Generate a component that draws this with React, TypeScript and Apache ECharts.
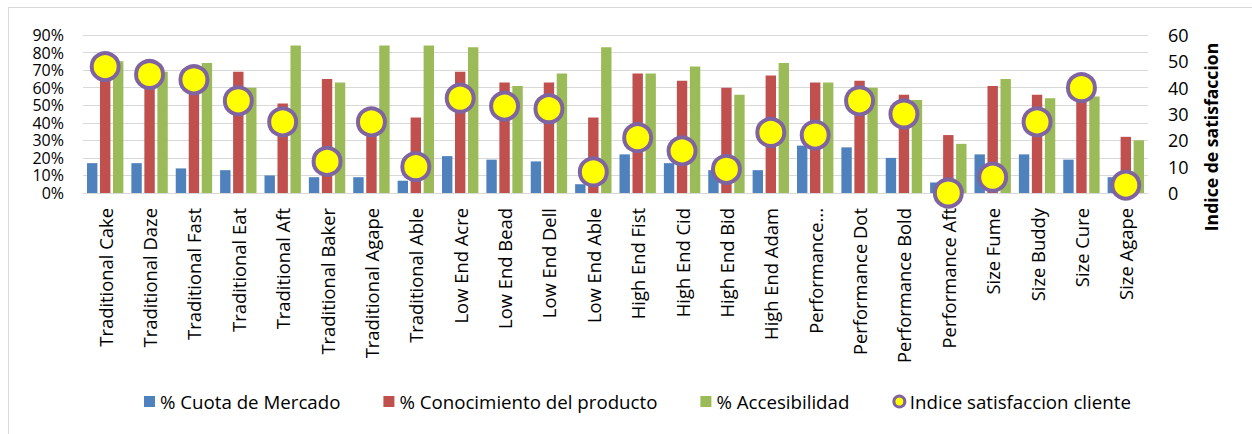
import React, { useEffect, useRef } from "react";
import * as echarts from "echarts";

const categories = [
  "Traditional Cake", "Traditional Daze", "Traditional Fast", "Traditional Eat",
  "Traditional Aft", "Traditional Baker", "Traditional Agape", "Traditional Able",
  "Low End Acre", "Low End Bead", "Low End Dell", "Low End Able",
  "High End Fist", "High End Cid", "High End Bid", "High End Adam",
  "Performance...", "Performance Dot", "Performance Bold", "Performance Aft",
  "Size Fume", "Size Buddy", "Size Cure", "Size Agape",
];

const cuotaMercado = [17, 17, 14, 13, 10, 9, 9, 7, 21, 19, 18, 5, 22, 17, 13, 13, 27, 26, 20, 6, 22, 22, 19, 9];
const conocimiento = [72, 68, 64, 69, 51, 65, 40, 43, 69, 63, 63, 43, 68, 64, 60, 67, 63, 64, 56, 33, 61, 56, 58, 32];
const accesibilidad = [75, 69, 74, 60, 84, 63, 84, 84, 83, 61, 68, 83, 68, 72, 56, 74, 63, 60, 53, 28, 65, 54, 55, 30];
const satisfaccion = [48, 45, 43, 35, 27, 12, 27, 10, 36, 33, 32, 8, 21, 16, 9, 23, 22, 35, 30, 0, 6, 27, 40, 3];

const leftTicks = { min: 0, max: 90, interval: 10 };
const rightTicks = { min: 0, max: 60, interval: 10 };

const FONT = "'Open Sans', 'Noto Sans', sans-serif";

export default function App() {
  const ref = useRef<HTMLDivElement>(null);
  useEffect(() => {
    if (!ref.current) return;
    const chart = echarts.init(ref.current, undefined, { renderer: "svg" });
    const barCommon = {
      type: "bar",
      barGap: "25%",
      barCategoryGap: "18%",
    };
    chart.setOption({
      animation: false,
      textStyle: { fontFamily: FONT, color: "#000" },
      grid: { left: 74, right: 104, top: 27, height: 158, containLabel: false },
      legend: {
        left: 130,
        top: 379,
        itemWidth: 11,
        itemHeight: 11,
        itemGap: 43,
        textStyle: { fontFamily: FONT, fontSize: 18.7, color: "#000" },
        data: [
          { name: "% Cuota de Mercado", icon: "rect" },
          { name: "% Conocimiento del producto", icon: "rect" },
          { name: "% Accesibilidad", icon: "rect" },
          { name: "Indice satisfaccion cliente", icon: "circle", itemStyle: { borderWidth: 3 } },
        ],
      },
      xAxis: {
        type: "category",
        data: categories,
        axisTick: { show: false },
        axisLine: { lineStyle: { color: "#D9D9D9", width: 1 } },
        axisLabel: {
          rotate: 90,
          interval: 0,
          margin: 15,
          fontFamily: FONT,
          fontSize: 18.4,
          color: "#000",
        },
      },
      yAxis: [
        {
          type: "value",
          min: leftTicks.min,
          max: leftTicks.max,
          interval: leftTicks.interval,
          axisLine: { show: false },
          axisTick: { show: false },
          splitLine: { show: true, lineStyle: { color: "#D9D9D9", width: 1 } },
          axisLabel: {
            formatter: "{value}%",
            margin: 19,
            fontFamily: FONT,
            fontSize: 16,
            color: "#000",
          },
        },
        {
          type: "value",
          min: rightTicks.min,
          max: rightTicks.max,
          interval: rightTicks.interval,
          position: "right",
          axisLine: { show: false },
          axisTick: { show: false },
          splitLine: { show: false },
          axisLabel: {
            margin: 20,
            fontFamily: FONT,
            fontSize: 18,
            color: "#000",
          },
        },
      ],
      graphic: [
        {
          type: "text",
          x: 1202,
          y: 129,
          rotation: Math.PI / 2,
          style: {
            text: "Indice de satisfaccion",
            fontFamily: FONT,
            fontSize: 17.6,
            fontWeight: "bold",
            fill: "#000",
            align: "center",
            verticalAlign: "middle",
          },
        },
      ],
      series: [
        { ...barCommon, name: "% Cuota de Mercado", data: cuotaMercado, itemStyle: { color: "#4F81BD" } },
        { ...barCommon, name: "% Conocimiento del producto", data: conocimiento, itemStyle: { color: "#C0504D" } },
        { ...barCommon, name: "% Accesibilidad", data: accesibilidad, itemStyle: { color: "#9BBB59" } },
        {
          type: "scatter",
          name: "Indice satisfaccion cliente",
          yAxisIndex: 1,
          data: satisfaccion,
          symbol: "circle",
          symbolSize: 27,
          z: 5,
          itemStyle: { color: "#FFFF00", borderColor: "#8064A2", borderWidth: 4, opacity: 1 },
        },
      ],
    });
    return () => chart.dispose();
  }, []);
  return (
    <div
      style={{
        position: "absolute",
        left: 8,
        top: 7,
        width: 1260,
        height: 440,
        borderLeft: "1px solid #D9D9D9",
        borderTop: "1px solid #D9D9D9",
        boxSizing: "border-box",
      }}
    >
      <div ref={ref} style={{ width: 1243, height: 426 }} />
    </div>
  );
}
